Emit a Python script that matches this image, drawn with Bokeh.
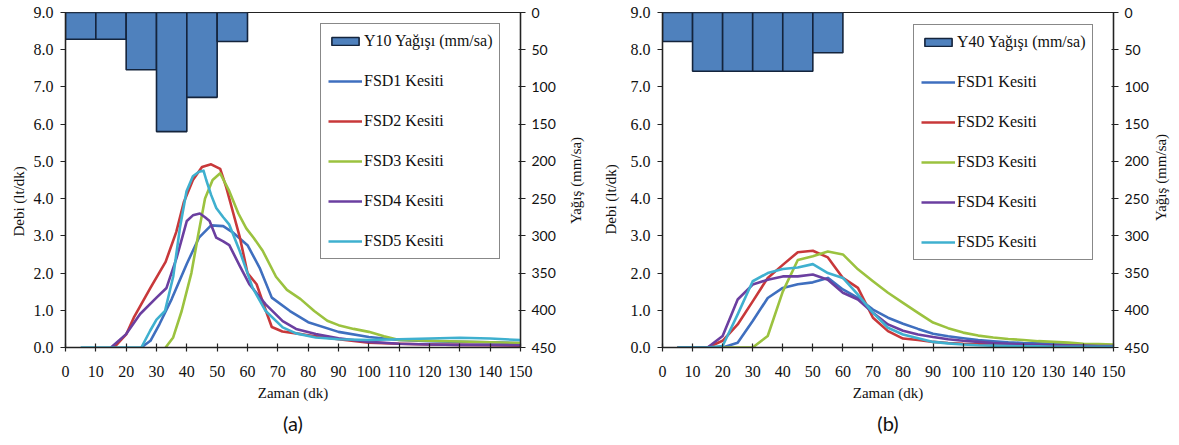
import math
from bokeh.plotting import figure
from bokeh.models import (Range1d, LinearAxis, Legend, LegendItem, Title, Label,
                          FixedTicker, NumeralTickFormatter)
from bokeh.layouts import row
from bokeh.embed import file_html
from bokeh.resources import INLINE

# ---------------- data ----------------
x_ticks = list(range(0, 151, 10))
q_ticks = list(range(0, 10))
rain_ticks = list(range(0, 451, 50))

rain_start = [0, 10, 20, 30, 40, 50]
rain_interval = 10
y10_rain = [36, 36, 77, 160, 114, 39]
y40_rain = [39, 79, 79, 79, 79, 54]

# panel (a) - Y10
a_fsd1_t = [25, 28, 31, 35, 40, 44, 48, 52, 55, 60, 64, 68, 74, 80, 90, 100, 110, 120, 130, 140, 150]
a_fsd1_q = [0, 0.18, 0.63, 1.3, 2.25, 2.95, 3.28, 3.26, 3.1, 2.75, 2.14, 1.34, 0.98, 0.68, 0.42, 0.28, 0.2, 0.17, 0.15, 0.14, 0.12]

a_fsd2_t = [16, 20, 22.5, 28, 33, 36.5, 39, 42, 45, 48, 51, 53, 55, 57.5, 60, 63, 66, 68, 71.5, 76, 80, 90, 100, 110, 120, 130, 140, 150]
a_fsd2_q = [0, 0.35, 0.8, 1.6, 2.3, 3.1, 3.9, 4.5, 4.85, 4.92, 4.8, 4.3, 3.7, 2.95, 2.0, 1.7, 1.0, 0.55, 0.43, 0.38, 0.33, 0.22, 0.13, 0.1, 0.08, 0.07, 0.06, 0.05]

a_fsd3_t = [33, 35.5, 38.3, 41.5, 43.7, 46, 48.5, 51, 54, 57, 59.6, 62, 65, 69.4, 73, 77.5, 82, 86.3, 90, 95, 100, 105, 110, 120, 130, 140, 150]
a_fsd3_q = [0, 0.27, 0.98, 2.0, 3.0, 4.0, 4.5, 4.68, 4.2, 3.6, 3.2, 2.95, 2.6, 1.9, 1.55, 1.3, 0.98, 0.72, 0.6, 0.5, 0.42, 0.3, 0.2, 0.18, 0.16, 0.14, 0.12]

a_fsd4_t = [15, 20, 24.6, 30, 33.3, 36.6, 40, 42, 44.3, 46, 47.5, 49.7, 52, 54, 57.4, 60.6, 66, 71.6, 76, 82.5, 90, 100, 110, 120, 130, 140, 150]
a_fsd4_q = [0, 0.36, 0.9, 1.34, 1.6, 2.4, 3.4, 3.55, 3.6, 3.5, 3.4, 2.95, 2.85, 2.75, 2.2, 1.7, 1.16, 0.71, 0.5, 0.36, 0.25, 0.15, 0.1, 0.08, 0.07, 0.07, 0.06]

a_fsd5_t = [5, 25, 27.9, 30, 32.8, 35.5, 37.7, 39.9, 42, 44, 45.5, 46.4, 48, 49.7, 52, 54, 57.4, 61.7, 66, 71.6, 76, 82.5, 90, 100, 110, 120, 130, 140, 150]
a_fsd5_q = [0, 0, 0.45, 0.75, 0.98, 1.9, 3.2, 4.2, 4.6, 4.72, 4.75, 4.5, 4.1, 3.75, 3.5, 3.3, 2.6, 1.6, 0.98, 0.54, 0.38, 0.27, 0.22, 0.2, 0.22, 0.24, 0.26, 0.24, 0.2]

# panel (b) - Y40 (5 min steps)
b_t = [5, 10, 15, 20, 25, 30, 35, 40, 45, 50, 55, 60, 65, 70, 75, 80, 85, 90, 95, 100,
       105, 110, 115, 120, 125, 130, 135, 140, 145, 150]
b_fsd1_q = [0, 0, 0, 0, 0.13, 0.71, 1.33, 1.6, 1.7, 1.75, 1.87, 1.56, 1.33, 1.02, 0.8, 0.64, 0.5, 0.37, 0.3, 0.25,
            0.2, 0.17, 0.14, 0.12, 0.11, 0.1, 0.09, 0.08, 0.07, 0.06]
b_fsd2_q = [0, 0, 0, 0.18, 0.62, 1.24, 1.87, 2.22, 2.56, 2.6, 2.42, 1.87, 1.6, 0.8, 0.44, 0.24, 0.2, 0.15, 0.12, 0.1,
            0.09, 0.08, 0.07, 0.06, 0.05, 0.05, 0.04, 0.04, 0.03, 0.03]
b_fsd3_q = [0, 0, 0, 0, 0, 0, 0.31, 1.5, 2.35, 2.45, 2.58, 2.5, 2.1, 1.78, 1.47, 1.2, 0.93, 0.67, 0.52, 0.4,
            0.32, 0.27, 0.23, 0.2, 0.17, 0.15, 0.13, 0.1, 0.09, 0.08]
b_fsd4_q = [0, 0, 0, 0.31, 1.29, 1.69, 1.82, 1.91, 1.91, 1.96, 1.82, 1.47, 1.29, 0.93, 0.62, 0.45, 0.35, 0.28, 0.22, 0.18,
            0.15, 0.12, 0.1, 0.08, 0.07, 0.06, 0.05, 0.05, 0.04, 0.04]
b_fsd5_q = [0, 0, 0, 0.04, 0.89, 1.78, 2.0, 2.11, 2.15, 2.24, 2.0, 1.87, 1.42, 0.93, 0.53, 0.35, 0.25, 0.15, 0.11, 0.08,
            0.06, 0.05, 0.04, 0.03, 0.03, 0.02, 0.02, 0.02, 0.02, 0.02]

series_names = ["FSD1 Kesiti", "FSD2 Kesiti", "FSD3 Kesiti", "FSD4 Kesiti", "FSD5 Kesiti"]
series_colors = ["#3F6FBF", "#C8383A", "#9BC23F", "#6B3FA0", "#3FB0CF"]
flow_axis_title = "Debi  (lt/dk)"
rain_axis_title = "Yağış (mm/sa)"

SERIF = "Times New Roman"
SANS = "Lato"
AXC = "#222222"
H = 444
FRAME_BOTTOM = 348   # page y of the (row-aligned) plot frames' bottom edge


def make_panel(width, b_left, b_right, b_top, b_bottom, rain, rain_label,
               series, legend_loc, tag):
    p = figure(width=width, height=H, x_range=Range1d(0, 150), y_range=Range1d(0, 9),
               output_backend="svg", toolbar_location=None,
               min_border_left=b_left, min_border_right=b_right,
               min_border_top=b_top, min_border_bottom=b_bottom)
    p.grid.visible = False
    p.outline_line_color = AXC
    p.outline_line_width = 1.2
    p.background_fill_color = "white"
    p.border_fill_color = "white"
    p.extra_y_ranges = {"rain": Range1d(450, 0)}

    bars = p.quad(left=rain_start, right=[s + rain_interval for s in rain_start],
                  top=0, bottom=rain, y_range_name="rain",
                  fill_color="#4F81BD", line_color="#14243C", line_width=1.6)

    items = [LegendItem(label=rain_label, renderers=[bars])]
    for (t, q), name, col in zip(series, series_names, series_colors):
        r = p.line(t, q, line_color=col, line_width=2.6, line_join="round")
        items.append(LegendItem(label=name, renderers=[r]))

    # axes
    xa = p.xaxis[0]
    xa.ticker = FixedTicker(ticks=x_ticks)
    xa.axis_label = "Zaman (dk)"
    ya = p.yaxis[0]
    ya.ticker = FixedTicker(ticks=q_ticks)
    ya.formatter = NumeralTickFormatter(format="0.0")

    ra = LinearAxis(y_range_name="rain", ticker=FixedTicker(ticks=rain_ticks))
    p.add_layout(ra, "right")

    for ax in (xa, ya, ra):
        ax.axis_line_color = AXC
        ax.axis_line_width = 1.4
        ax.major_tick_line_color = AXC
        ax.major_tick_line_width = 1.2
        ax.minor_tick_line_color = None
        ax.major_label_text_font = SERIF
        ax.major_label_text_color = "#111111"
        ax.axis_label_text_font = SERIF
        ax.axis_label_text_font_style = "normal"
        ax.axis_label_text_font_size = "15px"
        ax.axis_label_text_color = "#111111"

    xa.major_label_text_font_size = "16px"
    xa.major_tick_in = 4
    xa.major_tick_out = 4
    xa.major_label_standoff = 14
    xa.axis_label_standoff = 5

    ya.major_label_text_font_size = "16px"
    ya.major_tick_in = 0
    ya.major_tick_out = 5
    ya.major_label_standoff = 7

    ra.major_label_text_font = SANS
    ra.major_label_text_font_size = "14px"
    ra.major_tick_in = 2
    ra.major_tick_out = 5
    ra.major_label_standoff = 6

    leg = Legend(items=items, location=legend_loc)
    leg.border_line_color = "#111111"
    leg.border_line_width = 1.5
    leg.background_fill_color = "white"
    leg.background_fill_alpha = 1.0
    leg.label_text_font = SERIF
    leg.label_text_font_size = "16px"
    leg.label_text_color = "#111111"
    leg.glyph_width = 34
    leg.glyph_height = 10
    leg.label_height = 20
    leg.spacing = 20
    leg.padding = 7
    leg.margin = 0
    leg.label_standoff = 2
    p.add_layout(leg, "center")

    p.add_layout(Title(text=tag, align="center", text_font=SANS,
                       text_font_size="20px", text_font_style="normal",
                       text_color="#111111"), "below")
    return p


def side_label(width, x_pos, y_center, text):
    """Narrow strip holding a vertical axis title, reading bottom to top."""
    s = figure(width=width, height=H, x_range=Range1d(0, 1), y_range=Range1d(0, 1),
               output_backend="svg", toolbar_location=None,
               x_axis_location=None, y_axis_location=None, min_border=0)
    s.grid.visible = False
    s.outline_line_color = None
    s.border_fill_color = "white"
    s.background_fill_color = "white"
    s.add_layout(Label(x=x_pos, y=FRAME_BOTTOM - y_center, x_units="screen", y_units="screen",
                       text=text, angle=math.pi / 2, text_align="center",
                       text_baseline="middle", text_font=SERIF, text_font_size="15px",
                       text_color="#111111"))
    return s


la_l = side_label(28, 18, 200, flow_axis_title)
pa = make_panel(534, 37, 42, 12, H - 350, y10_rain, "Y10 Yağışı (mm/sa)",
                [(a_fsd1_t, a_fsd1_q), (a_fsd2_t, a_fsd2_q), (a_fsd3_t, a_fsd3_q),
                 (a_fsd4_t, a_fsd4_q), (a_fsd5_t, a_fsd5_q)],
                (255, 88), "(a)")
la_r = side_label(36, 13, 181, rain_axis_title)

lb_l = side_label(24, 12, 198, flow_axis_title)
pb = make_panel(529, 40, 36, 10, H - 347, y40_rain, "Y40 Yağışı (mm/sa)",
                [(b_t, b_fsd1_q), (b_t, b_fsd2_q), (b_t, b_fsd3_q),
                 (b_t, b_fsd4_q), (b_t, b_fsd5_q)],
                (251, 87), "(b)")
lb_r = side_label(26, 9, 178, rain_axis_title)

layout = row(la_l, pa, la_r, lb_l, pb, lb_r)
open("out.html", "w").write(file_html(layout, INLINE))
